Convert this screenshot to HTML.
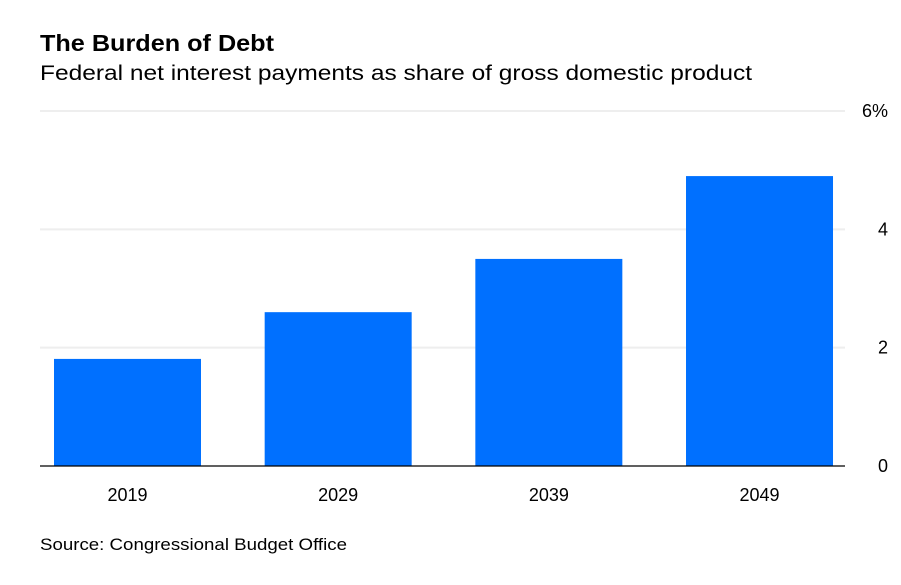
<!DOCTYPE html>
<html><head><meta charset="utf-8"><style>
body{margin:0;background:#fff;font-family:"Liberation Sans",sans-serif;}
</style></head><body>
<svg width="901" height="580" xmlns="http://www.w3.org/2000/svg">
<text x="40" y="51" font-size="23" font-weight="bold" fill="#000" textLength="234" lengthAdjust="spacingAndGlyphs" font-family="Liberation Sans, sans-serif">The Burden of Debt</text>
<text x="40" y="80" font-size="21" fill="#000" textLength="712" lengthAdjust="spacingAndGlyphs" font-family="Liberation Sans, sans-serif">Federal net interest payments as share of gross domestic product</text>
<g id="grid"></g>
<g id="bars"></g>
<g id="xlabels"></g>
<g id="ylabels"></g>
<line x1="40" x2="845" y1="466" y2="466" stroke="#000" stroke-width="1.2"/>
<text x="40" y="550" font-size="17" fill="#000" textLength="307" lengthAdjust="spacingAndGlyphs" font-family="Liberation Sans, sans-serif">Source: Congressional Budget Office</text>
</svg>
<script>
const categories = ["2019","2029","2039","2049"];
const values = [1.81, 2.6, 3.5, 4.9];
const yTicks = [0, 2, 4, 6];
const yTickLabels = ["0","2","4","6%"];
const NS="http://www.w3.org/2000/svg";
function y(v){return 466 - v*(355/6);}
function xc(i){return 127.5 + i*210.67;}
const grid=document.getElementById('grid'),bars=document.getElementById('bars'),xl=document.getElementById('xlabels'),yl=document.getElementById('ylabels');
yTicks.forEach((t,i)=>{
  if(t>0){const l=document.createElementNS(NS,'line');
  l.setAttribute('x1',40);l.setAttribute('x2',845);l.setAttribute('y1',y(t));l.setAttribute('y2',y(t));
  l.setAttribute('stroke','#eeeeee');l.setAttribute('stroke-width','2');
  
  
  grid.appendChild(l);}
  const tx=document.createElementNS(NS,'text');
  tx.setAttribute('x',888);tx.setAttribute('y',y(t)+6);tx.setAttribute('text-anchor','end');
  tx.setAttribute('font-size','18');tx.setAttribute('font-family','Liberation Sans, sans-serif');
  tx.textContent=yTickLabels[i];
  
  
  yl.appendChild(tx);
});
categories.forEach((c,i)=>{
  const r=document.createElementNS(NS,'rect');
  r.setAttribute('x',xc(i)-73.5);r.setAttribute('width',147);
  r.setAttribute('y',y(values[i]));r.setAttribute('height',466-y(values[i]));
  r.setAttribute('fill','#0070ff');
  
  
  bars.appendChild(r);
  const tx=document.createElementNS(NS,'text');
  tx.setAttribute('x',xc(i));tx.setAttribute('y',501);tx.setAttribute('text-anchor','middle');
  tx.setAttribute('font-size','18');tx.setAttribute('font-family','Liberation Sans, sans-serif');
  tx.textContent=c;
  
  
  xl.appendChild(tx);
});
</script>
</body></html>
